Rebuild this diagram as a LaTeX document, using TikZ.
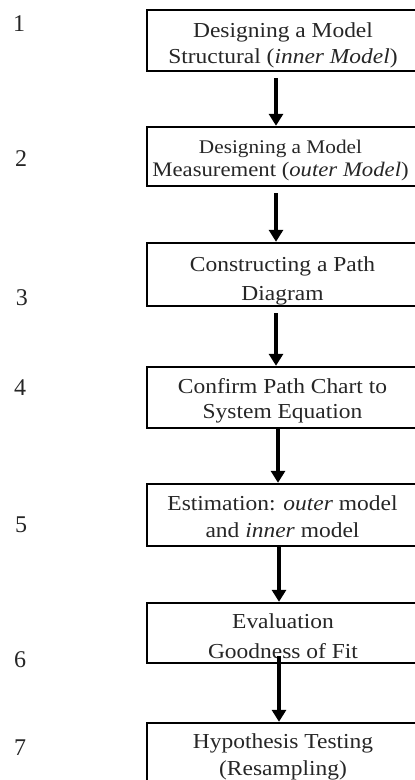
\documentclass[tikz,border=0pt]{standalone}
\usepackage{fontspec}
\setmainfont{Liberation Serif}[FakeStretch=1.1]
\newfontfamily\numfont{Liberation Serif}
\usetikzlibrary{arrows.meta}
\newcommand{\twolines}[2]{\begin{tabular}[t]{@{}c@{}}#1\\#2\end{tabular}}
\tikzset{
  box/.style={draw=black, line width=1.8pt, minimum width=204pt, inner sep=0pt},
  txt/.style={anchor=base, inner sep=0pt, text=black!85},
  num/.style={anchor=base, inner sep=0pt, text=black!85, font=\numfont\fontsize{18pt}{21pt}\selectfont},
  flow/.style={line width=2.6pt, -{Triangle[width=10.5pt,length=9pt]}},
}
\begin{document}
\begin{tikzpicture}[x=0.75pt, y=-0.75pt]
\useasboundingbox (0,0) rectangle (414,780);
% boxes
\node[box, minimum height=45.75pt] (b1) at (283,40.5) {};
\node[box, minimum height=44.25pt] (b2) at (283,156.5) {};
\node[box, minimum height=47.25pt] (b3) at (283,274.5) {};
\node[box, minimum height=45.75pt] (b4) at (283,397.5) {};
\node[box, minimum height=46.5pt] (b5) at (283,515) {};
\node[box, minimum height=45pt] (b6) at (283,633) {};
\node[box, minimum height=46.5pt] (b7) at (283,754) {};
% texts
\node[txt, font=\fontsize{16pt}{19.2pt}\selectfont] (t1) at (283,37.7)
  {\twolines{Designing a Model}{Structural (\textit{inner Model})}};
\node[txt, font=\fontsize{14.5pt}{17.25pt}\selectfont] (t2) at (280.5,154)
  {\twolines{Designing a Model}{\fontsize{15.5pt}{17.25pt}\selectfont Measurement (\textit{outer Model})}};
\node[txt, font=\fontsize{16pt}{21pt}\selectfont] (t3) at (282.5,272)
  {\twolines{Constructing a Path}{Diagram}};
\node[txt, font=\fontsize{16pt}{18.75pt}\selectfont] (t4) at (282.5,393)
  {\twolines{Confirm Path Chart to}{System Equation}};
\node[txt, font=\fontsize{16pt}{20.25pt}\selectfont] (t5) at (282.5,510)
  {\twolines{Estimation: \textit{outer} model}{and \textit{inner} model}};
\node[txt, font=\fontsize{16pt}{22.5pt}\selectfont] (t6) at (283,628)
  {\twolines{Evaluation}{Goodness of Fit}};
\node[txt, font=\fontsize{16pt}{20.25pt}\selectfont] (t7) at (283,748)
  {\twolines{Hypothesis Testing}{(Resampling)}};
% step numbers
\node[num] (n1) at (19,32) {1};
\node[num] (n2) at (21,167) {2};
\node[num] (n3) at (22,305) {3};
\node[num] (n4) at (20,395) {4};
\node[num] (n5) at (21,532) {5};
\node[num] (n6) at (20,667) {6};
\node[num] (n7) at (20,755) {7};
% arrows
\draw[flow] ([xshift=-5.25pt,yshift=-4.5pt]b1.south) -- ([xshift=-5.25pt]b2.north);
\draw[flow] ([xshift=-5.25pt,yshift=-4.5pt]b2.south) -- ([xshift=-5.25pt]b3.north);
\draw[flow] ([xshift=-5.25pt,yshift=-4.5pt]b3.south) -- ([xshift=-5.25pt]b4.north);
\draw[flow] ([xshift=-3.75pt]b4.south) -- ([xshift=-3.75pt]b5.north);
\draw[flow] ([xshift=-3pt]b5.south) -- ([xshift=-3pt]b6.north);
\draw[flow] ([xshift=-3pt,yshift=6pt]b6.south) -- ([xshift=-3pt]b7.north);
\end{tikzpicture}
\end{document}
